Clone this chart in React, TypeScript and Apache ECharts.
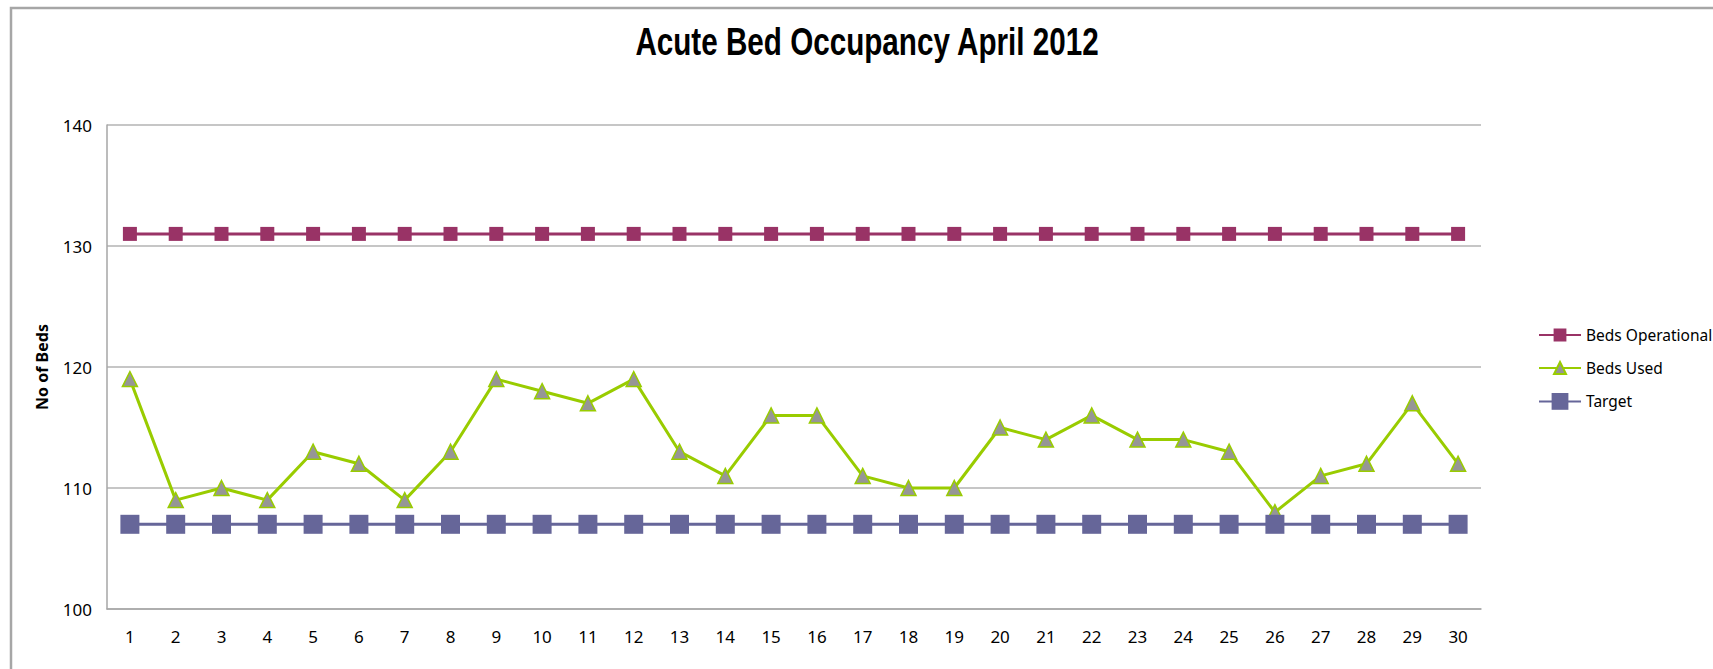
import React, { useEffect, useRef } from "react";
import * as echarts from "echarts";

const days = ["1","2","3","4","5","6","7","8","9","10","11","12","13","14","15","16","17","18","19","20","21","22","23","24","25","26","27","28","29","30"];
const bedsOperational = [131,131,131,131,131,131,131,131,131,131,131,131,131,131,131,131,131,131,131,131,131,131,131,131,131,131,131,131,131,131];
const bedsUsed = [119,109,110,109,113,112,109,113,119,118,117,119,113,111,116,116,111,110,110,115,114,116,114,114,113,108,111,112,117,112];
const target = [107,107,107,107,107,107,107,107,107,107,107,107,107,107,107,107,107,107,107,107,107,107,107,107,107,107,107,107,107,107];

const FONT = '"Noto Sans", "DejaVu Sans", sans-serif';

export default function App() {
  const ref = useRef<HTMLDivElement>(null);
  useEffect(() => {
    if (!ref.current) return;
    const chart = echarts.init(ref.current, null, { renderer: "svg" });
    const legendText = { fontSize: 15.5, color: "#000", fontFamily: FONT };
    chart.setOption({
      animation: false,
      backgroundColor: "#fff",
      graphic: [
        {
          type: "rect",
          shape: { x: 11, y: 8, width: 1800, height: 800 },
          style: { fill: "none", stroke: "#a6a6a6", lineWidth: 2.5 },
          silent: true,
        },
        {
          type: "text",
          x: 867,
          y: 42,
          scaleX: 0.78,
          style: {
            text: "Acute Bed Occupancy April 2012",
            font: 'bold 38px "Liberation Sans", Arial, sans-serif',
            textAlign: "center",
            textVerticalAlign: "middle",
            fill: "#000",
          },
        },
      ],
      grid: { left: 107, top: 125, width: 1374, height: 484 },
      legend: [
        {
          data: ["Beds Operational"],
          left: 1533,
          top: 322,
          itemWidth: 42,
          itemHeight: 16,
          textStyle: legendText,
        },
        {
          data: ["Beds Used"],
          left: 1533,
          top: 355,
          itemWidth: 42,
          itemHeight: 15,
          textStyle: legendText,
        },
        {
          data: ["Target"],
          left: 1533,
          top: 388,
          itemWidth: 42,
          itemHeight: 21,
          textStyle: legendText,
        },
      ],
      xAxis: {
        type: "category",
        data: days,
        boundaryGap: true,
        axisTick: { show: false },
        axisLine: { show: true, lineStyle: { color: "#a6a6a6", width: 1.5 } },
        axisLabel: { fontSize: 17, color: "#000", fontFamily: FONT, margin: 19, interval: 0 },
      },
      yAxis: {
        type: "value",
        min: 100,
        max: 140,
        interval: 10,
        name: "No of Beds",
        nameLocation: "middle",
        nameGap: 57,
        nameTextStyle: { fontSize: 16, fontWeight: "bold", color: "#000", fontFamily: FONT },
        axisLine: { show: true, lineStyle: { color: "#a6a6a6", width: 1.5 } },
        axisTick: { show: false },
        axisLabel: { fontSize: 17, color: "#000", fontFamily: FONT, margin: 15 },
        splitLine: { show: true, lineStyle: { color: "#b3b3b3", width: 1.5 } },
      },
      series: [
        {
          name: "Beds Operational",
          type: "line",
          data: bedsOperational,
          symbol: "rect",
          symbolSize: 14,
          lineStyle: { color: "#993366", width: 3 },
          itemStyle: { color: "#993366" },
        },
        {
          name: "Beds Used",
          type: "line",
          data: bedsUsed,
          symbol: "triangle",
          symbolSize: [15, 15],
          lineStyle: { color: "#99CC00", width: 3 },
          itemStyle: { color: "#969696", borderColor: "#99CC00", borderWidth: 1.5 },
        },
        {
          name: "Target",
          type: "line",
          data: target,
          symbol: "rect",
          symbolSize: 19,
          lineStyle: { color: "#666699", width: 3 },
          itemStyle: { color: "#666699" },
        },
      ],
    });
    return () => chart.dispose();
  }, []);
  return (
    <div
      ref={ref}
      style={{ position: "fixed", left: 0, top: 0, width: 1713, height: 669 }}
    />
  );
}
